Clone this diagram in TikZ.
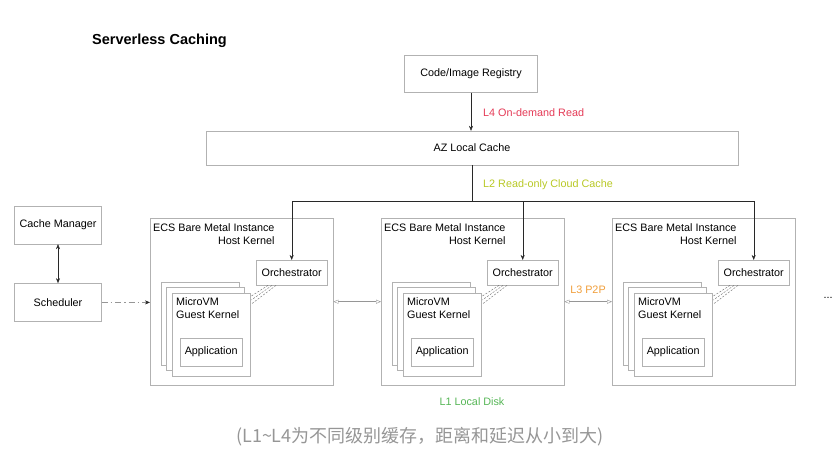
\documentclass[tikz,border=0pt]{standalone}
\usepackage{fontspec}
\setmainfont{Liberation Sans}
\newfontfamily\cjk{Noto Sans CJK SC}
\usetikzlibrary{arrows.meta,calc,positioning}
\definecolor{scline}{RGB}{178,178,178}
\definecolor{scdark}{RGB}{40,40,40}
\definecolor{scred}{RGB}{228,58,86}
\definecolor{scyellow}{RGB}{184,200,36}
\definecolor{scorange}{RGB}{240,158,58}
\definecolor{scgreen}{RGB}{86,182,86}
\definecolor{scgray}{RGB}{150,150,150}

\begin{document}
\begin{tikzpicture}[x=1pt,y=-1pt,font=\fontsize{10.8}{13}\selectfont,
      b/.style={draw=scline,fill=white,inner sep=0pt},
      a/.style={-{Stealth[length=5pt,width=4pt]},scdark},
      p/.style={{Triangle[open,length=5pt,width=4pt]}-{Triangle[open,length=5pt,width=4pt]},scgray},
      lbl/.style={anchor=west,inner sep=0pt}]
      \useasboundingbox (0,0) rectangle (836,470);
      \node[anchor=west,inner sep=0pt,font=\fontsize{14.5}{16}\selectfont\bfseries] (title) at (92,41) {Serverless Caching};
      % registry and AZ cache
      \node[b,minimum width=133pt,minimum height=37pt] (reg) at (471,74) {Code/Image Registry};
      \node[b,minimum width=532pt,minimum height=34pt] (cache) at (472,148) {AZ Local Cache};
      \draw[a] (reg.south) -- (reg.south |- cache.north);
      \node[lbl,text=scred] (l4) at (483,113) {L4 On-demand Read};
      % scheduler side
      \node[b,minimum width=87pt,minimum height=38pt] (cm) at (58,225) {Cache Manager};
      \node[b,minimum width=87pt,minimum height=38pt,below=39pt of cm] (sched) {Scheduler};
      \draw[{Stealth[length=5pt,width=4pt]}-{Stealth[length=5pt,width=4pt]},scdark] (cm) -- (sched);
      % instances
      \foreach \i/\x in {1/150,2/381,3/612}{
        \node[b,minimum width=183pt,minimum height=167pt,anchor=north west] (ecs\i) at (\x,218) {};
        \node[anchor=north west,align=right,inner sep=0pt] (host\i) at ([shift={(3,5)}]ecs\i.north west)
          {ECS Bare Metal Instance\\Host Kernel};
        \node[b,minimum width=71pt,minimum height=25pt,anchor=north east] (orch\i) at ([shift={(-6,42)}]ecs\i.north east) {Orchestrator};
        \foreach \s in {11,6,0}
          \node[b,minimum width=78pt,minimum height=83pt,anchor=north west] (vm\i-\s) at ([shift={(22-\s,75-\s)}]ecs\i.north west) {};
        \node[anchor=north west,align=left,inner sep=0pt] (guest\i) at ([shift={(4,4)}]vm\i-0.north west)
          {MicroVM\\Guest Kernel};
        \node[b,minimum width=62pt,minimum height=28pt,anchor=south] (app\i) at ([yshift=10pt]vm\i-0.south) {Application};
        \foreach \d in {0,4,8}
          \draw[scdark!70,dash pattern=on 2pt off 1.5pt] ([shift={(12+\d,0)}]orch\i.south west) -- ([shift={(1,3+\d)}]vm\i-0.north east);
      }
      % L2 fan-out
      \coordinate (split) at ($(cache.south)+(0,36)$);
      \draw[scdark] (cache.south) -- (split);
      \foreach \i in {1,2,3}
        \draw[a] (split) -| (orch\i.north);
      \node[lbl,text=scyellow] (l2) at (483,185) {L2 Read-only Cloud Cache};
      % links between instances
      \draw[scgray,dash pattern=on 6pt off 3pt on 1.5pt off 3pt,-{Stealth[length=5pt,width=4pt,color=scdark]}]
        (sched.east) -- (sched.east -| ecs1.west);
      \draw[p] (ecs1.east) -- (ecs2.west);
      \draw[p] (ecs2.east) -- (ecs3.west);
      \node[text=scorange] (l3) at (588,290) {L3 P2P};
      \node (more) at (828,298) {...};
      \node[text=scgreen] (l1) at (472,402) {L1 Local Disk};
      \node[text=scgray,font=\cjk\fontsize{18}{20}\selectfont] (note) at (420,437)
        {(L1\textasciitilde L4为不同级别缓存，距离和延迟从小到大)};
    \end{tikzpicture}
\end{document}
